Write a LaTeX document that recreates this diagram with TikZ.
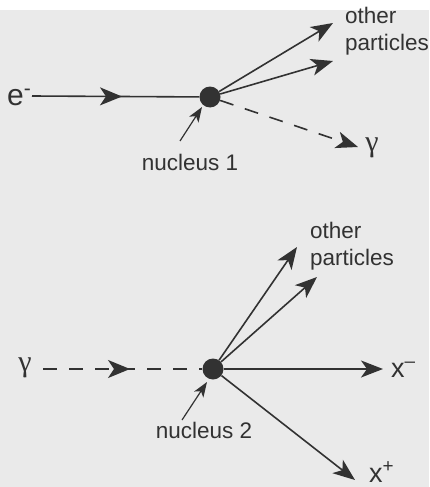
\documentclass[tikz,border=0pt]{standalone}
\usepackage{fontspec}
\setmainfont{Liberation Sans}
\newfontfamily\gammafont{Liberation Serif}
\usetikzlibrary{arrows.meta,decorations.markings}
\definecolor{bg}{RGB}{234,234,234}
\definecolor{ink}{RGB}{50,50,50}
\begin{document}
\begin{tikzpicture}[x=1pt,y=-1pt,
  lbl/.style={text=ink, inner sep=0pt, font=\fontsize{22.5}{27}\selectfont},
  big/.style={text=ink, inner sep=0pt, font=\fontsize{30}{32}\selectfont},
  gam/.style={text=ink, inner sep=0pt, font=\gammafont\fontsize{30}{32}\selectfont},
  wire/.style={draw=ink, line width=1.6pt},
  thin/.style={draw=ink, line width=1.2pt},
  dashline/.style={wire, dash pattern=on 14pt off 12pt},
  tipped/.style={-{Stealth[length=22pt,width=17pt,inset=6pt]}},
  smalltip/.style={-{Stealth[length=15pt,width=11pt,inset=4pt]}},
  midarrow/.style={postaction={decorate},
    decoration={markings, mark=at position #1 with {\arrow[solid,ink]{Stealth[length=22pt,width=18pt,inset=6pt]}}}},
  nucleus/.style={circle, fill=ink, minimum size=21pt, inner sep=0pt}
]
\fill[white] (0,0) rectangle (429,487);
\fill[bg] (0,10) rectangle (429,487);
\useasboundingbox (0,0) rectangle (429,487);

% ---------- top diagram ----------
\node[nucleus] (n1) at (210,97) {};
\node[big, anchor=base west] (eminus) at (7,105) {e\textsuperscript{-}};
\coordinate (estart) at (32,96);
\coordinate (t1) at (333,23);
\coordinate (t2) at (333,61);
\coordinate (g1) at (358,147);
\node[lbl, anchor=north west, align=left] (op1) at (345,7) {other\\particles};
\node[gam] (gam1) at (372,148) {γ};
\node[lbl, anchor=base] (nuc1) at (190,170) {nucleus 1};
\coordinate (p1s) at (180,141);
\coordinate (p1e) at (202,107);

\draw[wire, midarrow=90pt] (estart) -- (n1);
\draw[wire, tipped] (n1) -- (t1);
\draw[wire, tipped] (n1) -- (t2);
\draw[dashline, tipped] (n1) -- (g1);
\draw[thin, smalltip] (p1s) -- (p1e);

% ---------- bottom diagram ----------
\node[nucleus] (n2) at (213,369) {};
\node[gam] (gam2) at (25,368) {γ};
\coordinate (gstart) at (43,369);
\coordinate (o1) at (297,247);
\coordinate (o2) at (317,277);
\coordinate (xm) at (383,369);
\coordinate (xp) at (355,480);
\node[lbl, anchor=north west, align=left] (op2) at (310,222) {other\\particles};
\node[big, font=\fontsize{27}{29}\selectfont, anchor=base west] (xminus) at (391,377) {x\textsuperscript{–}};
\node[big, font=\fontsize{27}{29}\selectfont, anchor=base west] (xplus) at (369,482) {x\textsuperscript{+}};
\node[lbl, anchor=base] (nuc2) at (204,438) {nucleus 2};
\coordinate (p2s) at (182,420);
\coordinate (p2e) at (207,382);

\draw[dashline, midarrow=87pt] (gstart) -- (n2);
\draw[wire, tipped] (n2) -- (o1);
\draw[wire, tipped] (n2) -- (o2);
\draw[wire, tipped] (n2) -- (xm);
\draw[wire, tipped] (n2) -- (xp);
\draw[thin, smalltip] (p2s) -- (p2e);
\end{tikzpicture}
\end{document}
